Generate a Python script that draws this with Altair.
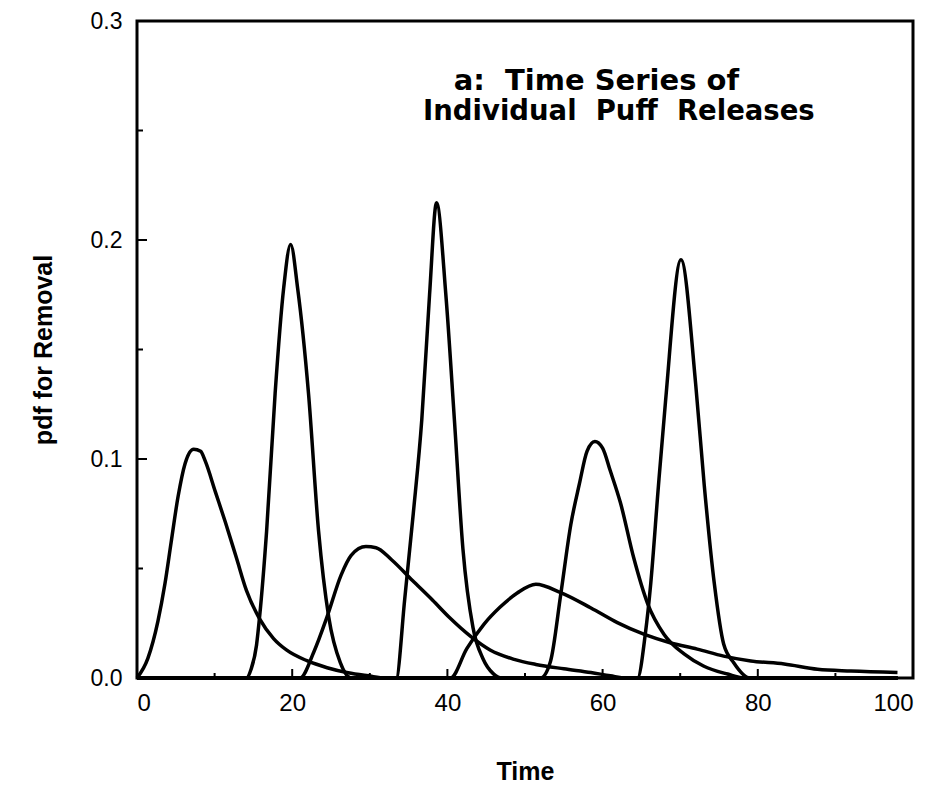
import altair as alt
import pandas as pd

# ---- data ----
p1_t = [0, 1.4, 2.7, 3.6, 4.4, 5.3, 6.2, 7.3, 8.2, 8.8, 10.1, 11.4, 12.8, 14.1, 15.8, 17.6, 19.3, 21.9, 24.5, 27.2, 29.8, 32, 98]
p1_v = [0, 0.009, 0.026, 0.043, 0.062, 0.083, 0.098, 0.1045, 0.1035, 0.099, 0.085, 0.071, 0.055, 0.040, 0.027, 0.018, 0.0127, 0.0079, 0.0047, 0.0024, 0.001, 0, 0]

p2_t = [0, 14.1, 14.7, 15.4, 15.8, 16.7, 17.8, 18.9, 19.8, 20.7, 22.1, 23.4, 24.7, 26.2, 27.6, 98]
p2_v = [0, 0, 0.004, 0.015, 0.028, 0.067, 0.130, 0.178, 0.198, 0.178, 0.130, 0.067, 0.028, 0.007, 0, 0]

p3_t = [0, 21.0, 22.8, 24.5, 26.3, 27.6, 29.5, 30.8, 32.8, 35.5, 38.1, 40.3, 43.0, 45.5, 48.6, 51.4, 55.0, 58.5, 61.0, 63.0, 98]
p3_v = [0, 0, 0.012, 0.028, 0.047, 0.056, 0.060, 0.0595, 0.054, 0.0445, 0.0355, 0.0275, 0.019, 0.0128, 0.0085, 0.0062, 0.0042, 0.0025, 0.001, 0, 0]

p4_t = [0, 33.4, 34.5, 35.6, 36.7, 37.7, 38.6, 39.8, 40.9, 42.0, 43.3, 44.6, 45.9, 47.0, 98]
p4_v = [0, 0, 0.036, 0.075, 0.118, 0.175, 0.217, 0.175, 0.118, 0.059, 0.023, 0.0087, 0.002, 0, 0]

p5_t = [0, 40.4, 42.5, 44.7, 46.8, 49.0, 51.4, 54.6, 58.5, 61.9, 65.3, 68.8, 72.2, 75.6, 79.1, 83.4, 87.7, 92.0, 98.0]
p5_v = [0, 0, 0.0134, 0.0245, 0.0324, 0.0388, 0.0428, 0.039, 0.032, 0.0253, 0.020, 0.016, 0.0132, 0.010, 0.0078, 0.0064, 0.004, 0.0032, 0.0025]

p6_t = [0, 52.0, 53.3, 54.6, 55.9, 57.0, 58.0, 59.0, 60.0, 61.0, 62.3, 64.0, 65.8, 67.9, 70.5, 73.0, 76.1, 78.2, 98]
p6_v = [0, 0, 0.0078, 0.038, 0.070, 0.0885, 0.1036, 0.108, 0.105, 0.0945, 0.080, 0.055, 0.034, 0.020, 0.011, 0.0055, 0.0018, 0, 0]

p7_t = [0, 64.5, 65.5, 66.2, 67.2, 68.1, 70.1, 72.0, 73.1, 74.4, 75.6, 76.9, 79.0, 98]
p7_v = [0, 0, 0.020, 0.043, 0.088, 0.126, 0.191, 0.134, 0.088, 0.043, 0.0155, 0.007, 0, 0]

series = [p1_t, p2_t, p3_t, p4_t, p5_t, p6_t, p7_t]
values = [p1_v, p2_v, p3_v, p4_v, p5_v, p6_v, p7_v]

x_ticks_major = [20, 40, 60, 80]
x_ticks_minor = [10, 30, 50, 70, 90]
y_ticks_major = [0.1, 0.2]
y_ticks_minor = [0.05, 0.15, 0.25]

title_line1 = "a:\u00a0 Time Series of"
title_line2 = "Individual\u00a0 Puff\u00a0 Releases"

rows = []
for i, (ts, vs) in enumerate(zip(series, values)):
    for k, (t, v) in enumerate(zip(ts, vs)):
        rows.append({"puff": i + 1, "order": k, "t": t, "v": v})
df = pd.DataFrame(rows)

W, H = 776, 657

xs = alt.Scale(domain=[0, 100], nice=False, zero=False)
ys = alt.Scale(domain=[0, 0.3], nice=False)

lines = alt.Chart(df).mark_line(
    color="black", strokeWidth=3.5, interpolate="monotone", strokeJoin="round"
).encode(
    x=alt.X("t:Q", scale=xs, title="Time",
            axis=alt.Axis(values=[0, 20, 40, 60, 80, 100], format="d", ticks=False,
                          domain=False, grid=False, labelPadding=13,
                          labelFont="Liberation Sans", labelFontSize=24, labelColor="black",
                          titleFont="Liberation Sans", titleFontSize=25, titleFontWeight="bold",
                          titlePadding=44, titleColor="black")),
    y=alt.Y("v:Q", scale=ys, title="pdf for Removal",
            axis=alt.Axis(values=[0, 0.1, 0.2, 0.3], format=".1f", ticks=False,
                          domain=False, grid=False, labelPadding=15,
                          labelFont="Liberation Sans", labelFontSize=23, labelColor="black",
                          titleFont="Liberation Sans", titleFontSize=25, titleFontWeight="bold",
                          titlePadding=34, titleColor="black")),
    detail="puff:N",
    order="order:Q",
)

def xticks(vals, length):
    return alt.Chart(pd.DataFrame({"t": vals})).mark_rule(color="black", strokeWidth=2).encode(
        x=alt.X("t:Q", scale=xs), y=alt.value(H), y2=alt.value(H - length))

def yticks(vals, length):
    return alt.Chart(pd.DataFrame({"v": vals})).mark_rule(color="black", strokeWidth=2).encode(
        y=alt.Y("v:Q", scale=ys), x=alt.value(0), x2=alt.value(length))

t1 = alt.Chart(pd.DataFrame({"s": [title_line1]})).mark_text(
    font="DejaVu Sans", fontSize=29, fontWeight="bold", align="center", baseline="alphabetic", color="black"
).encode(x=alt.datum(59.2), y=alt.datum(0.2685), text="s:N")
t2 = alt.Chart(pd.DataFrame({"s": [title_line2]})).mark_text(
    font="DejaVu Sans", fontSize=27.5, fontWeight="bold", align="center", baseline="alphabetic", color="black"
).encode(x=alt.datum(62.1), y=alt.datum(0.2548), text="s:N")

chart = alt.layer(
    lines, xticks(x_ticks_major, 9), xticks(x_ticks_minor, 5),
    yticks(y_ticks_major, 10), yticks(y_ticks_minor, 6), t1, t2
).properties(
    width=W, height=H,
    autosize=alt.AutoSizeParams(type="none"),
    padding={"left": 129, "top": 13, "right": 20, "bottom": 114},
    background="white",
).configure_view(stroke="black", strokeWidth=3)

chart.save("out.html", embed_options={"renderer": "svg", "actions": False})
